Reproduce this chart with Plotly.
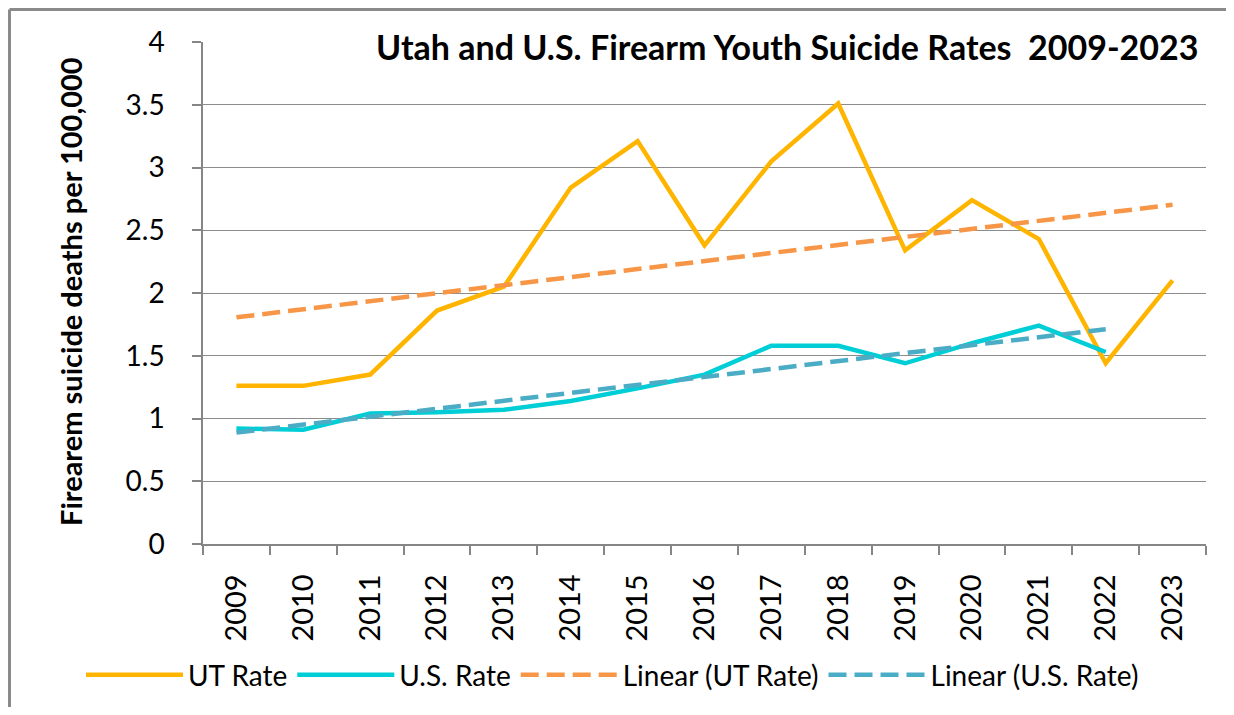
import numpy as np
import plotly.graph_objects as go

years = ["2009", "2010", "2011", "2012", "2013", "2014", "2015", "2016",
         "2017", "2018", "2019", "2020", "2021", "2022", "2023"]
ut_rate = [1.26, 1.26, 1.35, 1.86, 2.05, 2.84, 3.21, 2.38, 3.05, 3.51, 2.34, 2.74, 2.43, 1.44, 2.10]
us_years = years[:14]
us_rate = [0.92, 0.91, 1.04, 1.05, 1.07, 1.14, 1.24, 1.35, 1.58, 1.58, 1.44, 1.60, 1.74, 1.53]
ytick_vals = [0, 0.5, 1, 1.5, 2, 2.5, 3, 3.5, 4]
ytick_text = ["0", "0.5", "1", "1.5", "2", "2.5", "3", "3.5", "4"]

title_text = "Utah and U.S. Firearm Youth Suicide Rates  2009-2023"
ytitle_text = "Firearem suicide deaths per 100,000"

# Linear trendlines (least squares, as in the spreadsheet trendline)
xi_ut = np.arange(len(ut_rate))
ut_trend = np.polyval(np.polyfit(xi_ut, ut_rate, 1), xi_ut)
xi_us = np.arange(len(us_rate))
us_trend = np.polyval(np.polyfit(xi_us, us_rate, 1), xi_us)

FONT = "Lato"
OFF = 8  # page body margin
W, H = 1234 - 2 * OFF, 715 - 2 * OFF
L, T = 203 - OFF, 42 - OFF
R = W - (1206 - OFF)
B = H - (544 - OFF)
pw, ph = W - L - R, H - T - B

def px_x(p):  # screen px -> paper
    return (p - OFF - L) / pw

def px_y(p):
    return (H - B - (p - OFF)) / ph

fig = go.Figure()
fig.add_trace(go.Scatter(x=years, y=ut_rate, name="UT Rate", mode="lines",
                         line=dict(color="#FFB500", width=4.5)))
fig.add_trace(go.Scatter(x=us_years, y=us_rate, name="U.S. Rate", mode="lines",
                         line=dict(color="#00CED6", width=4.5)))
fig.add_trace(go.Scatter(x=years, y=ut_trend, name="Linear (UT Rate)", mode="lines",
                         line=dict(color="#F79646", width=4.5, dash="18px,8px")))
fig.add_trace(go.Scatter(x=us_years, y=us_trend, name="Linear (U.S. Rate)", mode="lines",
                         line=dict(color="#4BACC6", width=4.5, dash="18px,8px")))

fig.update_layout(
    width=W, height=H, autosize=False,
    margin=dict(l=L, r=R, t=T, b=B, pad=0, autoexpand=False),
    paper_bgcolor="white", plot_bgcolor="white",
    font=dict(family=FONT, color="black"),
    showlegend=True,
    legend=dict(orientation="h", x=px_x(81), y=px_y(675),
                xanchor="left", yanchor="middle",
                font=dict(family=FONT, size=28, color="black"),
                itemwidth=97, bgcolor="rgba(0,0,0,0)", tracegroupgap=0),
    xaxis=dict(type="category", categoryorder="array", categoryarray=years,
               range=[-0.5, 14.5], showgrid=False, showline=True, linecolor="#868686",
               linewidth=1.5, ticks="outside", tickson="boundaries", ticklen=9,
               tickcolor="#868686", tickwidth=1.5, tickangle=-90,
               tickfont=dict(family=FONT, size=29, color="black"),
               ticklabelstandoff=17, zeroline=False, fixedrange=True, automargin=False),
    yaxis=dict(range=[0, 4], tickvals=ytick_vals, ticktext=ytick_text,
               showgrid=True, gridcolor="#8c8c8c", gridwidth=1.3,
               showline=True, linecolor="#868686", linewidth=1.5,
               ticks="outside", ticklen=9, tickcolor="#868686", tickwidth=1.5,
               tickfont=dict(family=FONT, size=28, color="black"),
               ticklabelstandoff=22, zeroline=False, fixedrange=True, automargin=False),
)

fig.add_annotation(text="<b>" + title_text + "</b>", xref="paper", yref="paper",
                   x=px_x(787), y=px_y(47), xanchor="center", yanchor="middle",
                   showarrow=False, bgcolor="white", borderpad=7,
                   font=dict(family=FONT, size=34, color="black"))
fig.add_annotation(text="<b>" + ytitle_text + "</b>", xref="paper", yref="paper",
                   x=px_x(70), y=px_y(292), xanchor="center", yanchor="middle",
                   textangle=-90, showarrow=False,
                   font=dict(family=FONT, size=29, color="black"))

# outer chart border (left and top edges visible in the reference)
fig.add_shape(type="line", xref="paper", yref="paper",
              x0=px_x(9.5), x1=px_x(1260), y0=px_y(9.5), y1=px_y(9.5),
              line=dict(color="#8a8a8a", width=3), layer="below")
fig.add_shape(type="line", xref="paper", yref="paper",
              x0=px_x(9.5), x1=px_x(9.5), y0=px_y(9.5), y1=px_y(760),
              line=dict(color="#8a8a8a", width=3), layer="below")

fig.write_html("out.html")
